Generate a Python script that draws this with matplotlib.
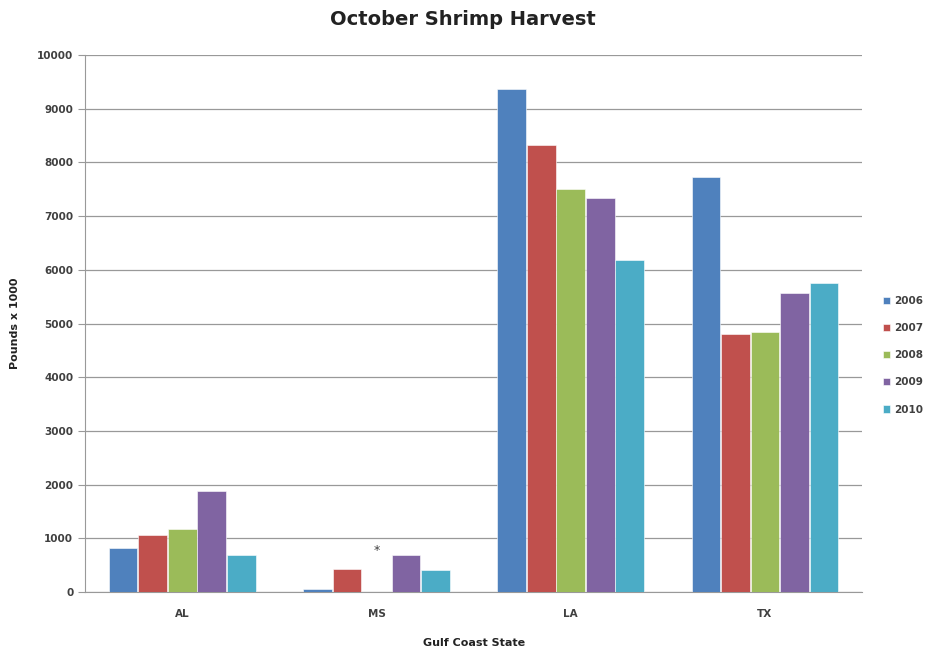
import matplotlib
matplotlib.use("Agg")
import matplotlib.pyplot as plt
import numpy as np

states = ["AL", "MS", "LA", "TX"]
years = ["2006", "2007", "2008", "2009", "2010"]
v2006 = [820, 50, 9360, 7730]
v2007 = [1060, 430, 8320, 4800]
v2008 = [1170, np.nan, 7500, 4840]
v2009 = [1880, 690, 7340, 5570]
v2010 = [690, 410, 6180, 5750]
series = [v2006, v2007, v2008, v2009, v2010]
colors = ["#4F81BD", "#C0504D", "#9BBB59", "#8064A2", "#4BACC6"]

fig = plt.figure(figsize=(9.25, 6.56), dpi=100)
ax = fig.add_axes([0.092, 0.0976, 0.840, 0.8184])

x = np.arange(len(states))
n = len(series)
group_w = 0.76
bw = group_w / n
for i, (vals, c, yr) in enumerate(zip(series, colors, years)):
    pos = x - group_w / 2 + bw * (i + 0.5)
    ax.bar(pos, np.nan_to_num(vals), width=bw * 0.97, color=c, label=yr,
           edgecolor="white", linewidth=0.4, zorder=3)

# asterisk for missing MS 2008
ms = states.index("MS")
ax.text(ms - group_w / 2 + bw * 2.5, 780, "*", ha="center", va="center",
        fontsize=9, color="#404040")

ax.set_xlim(-0.5, len(states) - 0.5)
ax.set_ylim(0, 10000)
ax.set_yticks(np.arange(0, 10001, 1000))
ax.set_xticks(x)
ax.set_xticklabels(states)
ax.yaxis.grid(True, color="#999999", linewidth=0.9, zorder=0)
ax.set_axisbelow(True)
for s in ["top", "right"]:
    ax.spines[s].set_visible(False)
for s in ["left", "bottom"]:
    ax.spines[s].set_color("#999999")
ax.tick_params(axis="y", length=5, color="#999999", labelsize=7.5, labelcolor="#404040")
ax.tick_params(axis="x", length=0, labelsize=7.5, labelcolor="#404040", pad=12)
for lab in ax.get_yticklabels() + ax.get_xticklabels():
    lab.set_fontweight("bold")

fig.suptitle("October Shrimp Harvest", x=0.5, y=0.985, fontsize=14, fontweight="bold",
             color="#222222")
ax.set_xlabel("Gulf Coast State", fontsize=8, fontweight="bold", color="#222222", labelpad=14)
ax.set_ylabel("Pounds x 1000", fontsize=8, fontweight="bold", color="#222222", labelpad=12)

leg = ax.legend(loc="center left", bbox_to_anchor=(1.021, 0.441), frameon=False,
                fontsize=7.5, handlelength=0.7, handleheight=0.7, labelspacing=1.65,
                handletextpad=0.4, borderaxespad=0.0)
for t in leg.get_texts():
    t.set_color("#404040")
    t.set_fontweight("bold")

fig.savefig("out.png", dpi=100)
